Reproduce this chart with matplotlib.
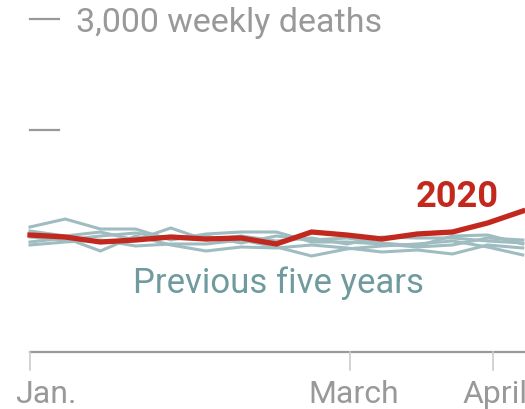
"""Weekly deaths in 2020 against the previous five years"""
import matplotlib
matplotlib.use('Agg')
import matplotlib.pyplot as plt

weeks = list(range(15))
deaths_2020 = [1054, 1036, 991, 1009, 1036, 1018, 1027, 973, 1081, 1054, 1018, 1063, 1081, 1162, 1270]
previous_years = [
    [1126, 1198, 1108, 1108, 1009, 1063, 1081, 1081, 991, 991, 973, 946, 964, 1027, 1009],
    [1090, 1045, 1081, 1009, 1117, 1009, 1045, 1000, 1027, 973, 1036, 1027, 1027, 1000, 982],
    [991, 1027, 910, 1045, 964, 910, 946, 937, 964, 937, 901, 919, 883, 964, 937],
    [964, 991, 1009, 955, 973, 973, 1009, 946, 865, 928, 955, 973, 1000, 946, 874],
    [1036, 1009, 1045, 1072, 1027, 1045, 982, 1045, 1009, 1027, 982, 955, 1045, 1054, 973],
]
month_ticks = [0, 9.09, 13.15]
month_labels = ['Jan.', 'March', 'April']
y_ticks = [3000, 2000]

RED = '#c2281d'
GREY_LINE = '#9fbcc0'
TEAL_TEXT = '#6f9b9e'
AXIS = '#999999'
FONT = 'Roboto'

fig = plt.figure(figsize=(5.25, 4.09), dpi=100)
ax = fig.add_axes([0, 0, 1, 1])
ax.set_xlim(-0.852, 14.063)
ax.set_ylim(-513.5, 3171)
ax.axis('off')

for series in previous_years:
    ax.plot(weeks, series, color=GREY_LINE, lw=2.2, solid_joinstyle='miter', zorder=2)
ax.plot(weeks, deaths_2020, color=RED, lw=3.8, solid_joinstyle='miter', zorder=3)

# baseline and month ticks
ax.plot([0, 15], [0, 0], color=AXIS, lw=1.6, zorder=1, clip_on=False)
for pos in month_ticks:
    ax.plot([pos, pos], [0, -165], color='#cccccc', lw=1.2, zorder=1)
x_lab = [-0.43, 7.9, 12.3]
for xl, lab in zip(x_lab, month_labels):
    ax.text(xl, -459, lab, color=AXIS, fontsize=23, family=FONT,
            ha='left', va='baseline')

# y tick dashes
for yv in y_ticks:
    ax.plot([0, 0.82], [yv, yv], color=AXIS, lw=1.6)
ax.text(1.31, 2887, '3,000 weekly deaths', color=AXIS, fontsize=24.5,
        family=FONT, ha='left', va='baseline')

ax.text(2.93, 531, 'Previous five years', color=TEAL_TEXT, fontsize=25,
        family=FONT, ha='left', va='baseline')
ax.text(10.97, 1306, '2020', color=RED, fontsize=26, family=FONT,
        fontweight='bold', ha='left', va='baseline')

fig.savefig('out.png', dpi=100)
